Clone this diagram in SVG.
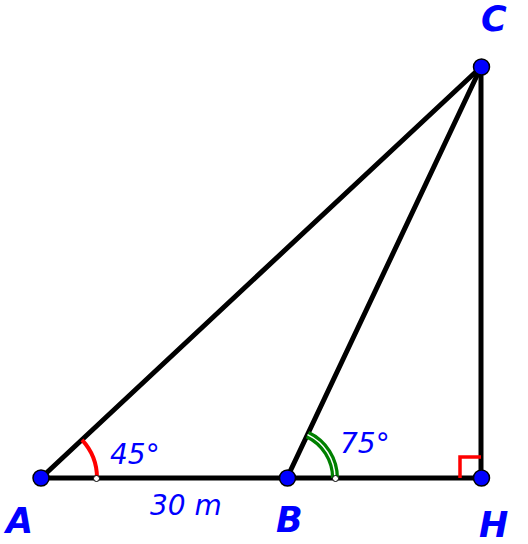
<svg xmlns="http://www.w3.org/2000/svg" width="528" height="544" viewBox="0 0 528 544">
<style>
.seg{stroke:#000;stroke-width:5;fill:none;stroke-linecap:round}
.pt{fill:#0000ff;stroke:#000;stroke-width:1.5}
.lbl{font-family:"DejaVu Sans",sans-serif;font-weight:bold;font-style:italic;fill:#0000ff;font-size:35px}
.val{font-family:"DejaVu Sans",sans-serif;font-style:italic;fill:#0000ff;font-size:28px}
.wdot{fill:#fff;stroke:#000;stroke-width:1}
</style>
<rect width="528" height="544" fill="#fff"/>
<g id="connectors">
<line class="seg" x1="41" y1="478" x2="481" y2="478"/>
<line class="seg" x1="41" y1="478" x2="481" y2="67"/>
<line class="seg" x1="287" y1="478" x2="481" y2="67"/>
<line class="seg" x1="481" y1="478" x2="481" y2="67"/>
</g>
<g id="angle-A">
<path d="M97 478 A56 56 0 0 0 82 439.8" fill="none" stroke="#ff0000" stroke-width="4"/>
<circle class="wdot" cx="96.5" cy="478.5" r="3"/>
<text class="val" x="110" y="464">45°</text>
</g>
<g id="angle-B">
<path d="M335 478 A48 48 0 0 0 307.5 434.6" fill="none" stroke="#008000" stroke-width="8"/>
<path d="M335 478 A48 48 0 0 0 307.5 434.6" fill="none" stroke="#fff" stroke-width="1.5"/>
<circle class="wdot" cx="335.5" cy="478.5" r="3"/>
<text class="val" x="340" y="453">75°</text>
</g>
<g id="angle-H">
<polyline points="460,478 460,457 481,457" fill="none" stroke="#ff0000" stroke-width="3.5"/>
</g>
<g id="label-30m">
<text class="val" x="150" y="515">30 m</text>
</g>
<g id="node-A">
<circle class="pt" cx="41" cy="478" r="8"/>
<text class="lbl" x="6" y="533">A</text>
</g>
<g id="node-B">
<circle class="pt" cx="287.5" cy="478" r="8"/>
<text class="lbl" x="276" y="532">B</text>
</g>
<g id="node-H">
<circle class="pt" cx="481.5" cy="478" r="8"/>
<text class="lbl" x="479" y="537">H</text>
</g>
<g id="node-C">
<circle class="pt" cx="481.5" cy="67" r="8"/>
<text class="lbl" x="481" y="31">C</text>
</g>
</svg>
